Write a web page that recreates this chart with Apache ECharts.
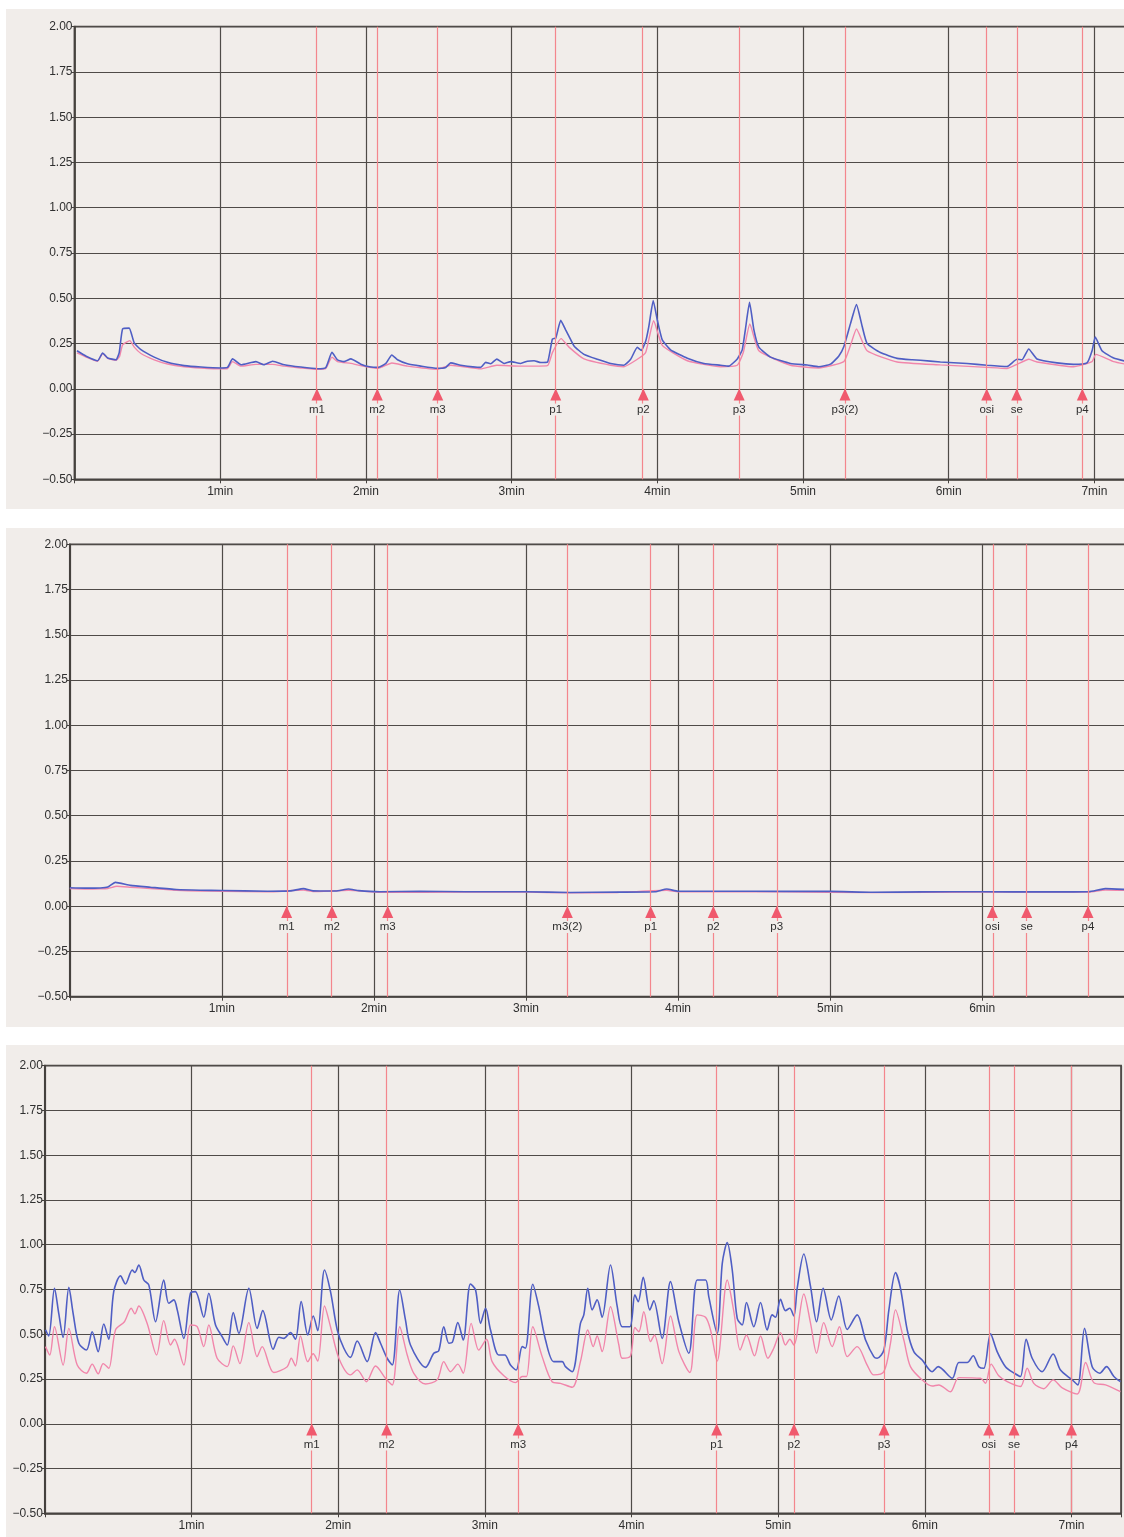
<!DOCTYPE html>
<html>
<head>
<meta charset="utf-8">
<script src="https://cdn.jsdelivr.net/npm/echarts@6/dist/echarts.min.js"></script>
<style>
  html, body { margin: 0; padding: 0; background: #ffffff; }
  #wrap { position: relative; width: 1124px; height: 1537px; overflow: hidden; }
  .paper { position: absolute; left: 6px; right: 0; background: #f1edea; }
  #chart { position: absolute; left: 0; top: 0; width: 1124px; height: 1537px; }
</style>
</head>
<body>
<div id="wrap">
  <div class="paper" style="top:9px;height:500px"></div>
  <div class="paper" style="top:528px;height:499px"></div>
  <div class="paper" style="top:1045px;height:492px"></div>
  <div id="chart"></div>
</div>
<script>
// ---- Recording 1: [minutes, value] ----
const run1Blue = [[0.017,0.21],[0.08,0.18],[0.159,0.155],[0.193,0.198],[0.228,0.17],[0.285,0.16],[0.307,0.2],[0.33,0.33],[0.375,0.335],[0.41,0.253],[0.456,0.216],[0.547,0.175],[0.639,0.146],[0.753,0.128],[0.868,0.12],[1.005,0.115],[1.05,0.118],[1.085,0.165],[1.142,0.133],[1.245,0.15],[1.30,0.133],[1.36,0.152],[1.44,0.133],[1.553,0.12],[1.668,0.111],[1.725,0.118],[1.767,0.201],[1.805,0.16],[1.85,0.15],[1.897,0.165],[1.965,0.136],[2.034,0.12],[2.084,0.118],[2.137,0.14],[2.178,0.187],[2.217,0.16],[2.285,0.138],[2.377,0.125],[2.49,0.113],[2.548,0.118],[2.582,0.143],[2.651,0.13],[2.788,0.118],[2.822,0.146],[2.856,0.138],[2.898,0.164],[2.948,0.14],[2.994,0.15],[3.062,0.14],[3.108,0.152],[3.154,0.155],[3.2,0.145],[3.246,0.147],[3.28,0.275],[3.303,0.28],[3.337,0.378],[3.371,0.325],[3.394,0.29],[3.43,0.235],[3.497,0.19],[3.589,0.163],[3.68,0.14],[3.771,0.13],[3.817,0.163],[3.863,0.229],[3.89,0.212],[3.92,0.262],[3.942,0.345],[3.972,0.487],[4.0,0.38],[4.034,0.27],[4.091,0.215],[4.206,0.169],[4.32,0.14],[4.434,0.13],[4.49,0.125],[4.549,0.165],[4.583,0.215],[4.605,0.33],[4.633,0.477],[4.663,0.325],[4.697,0.23],[4.777,0.175],[4.914,0.14],[5.029,0.131],[5.108,0.122],[5.189,0.136],[5.245,0.18],[5.28,0.232],[5.326,0.36],[5.367,0.465],[5.406,0.345],[5.44,0.25],[5.531,0.2],[5.646,0.168],[5.75,0.16],[5.806,0.158],[5.943,0.148],[6.126,0.14],[6.263,0.13],[6.4,0.123],[6.469,0.163],[6.503,0.16],[6.549,0.22],[6.606,0.165],[6.743,0.143],[6.857,0.135],[6.949,0.143],[6.984,0.21],[7.006,0.286],[7.052,0.21],[7.132,0.17],[7.25,0.145]];
const run1Pink = [[0.017,0.198],[0.08,0.175],[0.159,0.152],[0.193,0.195],[0.228,0.168],[0.285,0.158],[0.31,0.18],[0.33,0.243],[0.38,0.266],[0.41,0.23],[0.456,0.195],[0.547,0.16],[0.639,0.137],[0.753,0.122],[0.868,0.115],[1.005,0.11],[1.05,0.112],[1.085,0.15],[1.142,0.125],[1.245,0.135],[1.36,0.135],[1.44,0.125],[1.553,0.115],[1.668,0.107],[1.725,0.112],[1.767,0.175],[1.805,0.15],[1.897,0.14],[1.965,0.128],[2.084,0.113],[2.178,0.142],[2.285,0.125],[2.49,0.108],[2.582,0.13],[2.788,0.11],[2.898,0.13],[3.062,0.125],[3.246,0.128],[3.28,0.2],[3.34,0.277],[3.394,0.23],[3.497,0.165],[3.68,0.13],[3.771,0.122],[3.863,0.163],[3.92,0.2],[3.975,0.376],[4.034,0.24],[4.206,0.155],[4.434,0.122],[4.549,0.13],[4.59,0.2],[4.635,0.358],[4.697,0.21],[4.914,0.13],[5.108,0.115],[5.28,0.15],[5.326,0.24],[5.367,0.33],[5.44,0.21],[5.646,0.148],[5.943,0.132],[6.263,0.118],[6.4,0.112],[6.469,0.135],[6.55,0.163],[6.606,0.148],[6.857,0.122],[6.984,0.15],[7.01,0.19],[7.132,0.15],[7.25,0.13]];
const events1Names = ['m1','m2','m3','p1','p2','p3','p3(2)','osi','se','p4'];
const events1Times = [1.664,2.078,2.493,3.303,3.904,4.562,5.288,6.261,6.467,6.917];

// ---- Recording 2 ----
const run2Blue = [[0,0.102],[0.1,0.1],[0.2,0.101],[0.25,0.106],[0.299,0.132],[0.4,0.115],[0.529,0.105],[0.7,0.092],[0.858,0.088],[1.0,0.087],[1.3,0.083],[1.45,0.085],[1.537,0.097],[1.6,0.085],[1.75,0.084],[1.833,0.095],[1.9,0.086],[2.04,0.08],[2.3,0.082],[2.6,0.08],[3.0,0.08],[3.29,0.076],[3.6,0.078],[3.85,0.08],[3.926,0.095],[4.0,0.083],[4.3,0.083],[4.7,0.082],[5.0,0.082],[5.28,0.077],[5.6,0.079],[6.0,0.08],[6.4,0.079],[6.7,0.08],[6.81,0.097],[7.0,0.09]];
const run2Pink = [[0,0.097],[0.1,0.095],[0.2,0.096],[0.25,0.098],[0.31,0.11],[0.4,0.105],[0.529,0.098],[0.7,0.088],[0.858,0.084],[1.0,0.083],[1.3,0.079],[1.537,0.09],[1.6,0.081],[1.833,0.088],[2.04,0.077],[2.6,0.078],[3.0,0.078],[3.29,0.074],[3.6,0.076],[3.926,0.088],[4.0,0.08],[4.7,0.08],[5.28,0.075],[6.0,0.078],[6.7,0.078],[6.81,0.09],[7.0,0.086]];
const events2Names = ['m1','m2','m3','m3(2)','p1','p2','p3','osi','se','p4'];
const events2Times = [1.426,1.724,2.091,3.272,3.820,4.232,4.649,6.067,6.293,6.696];

// ---- Recording 3 ----
const run3Blue = [[0.005,0.524],[0.027,0.49],[0.066,0.757],[0.095,0.617],[0.125,0.483],[0.164,0.762],[0.193,0.617],[0.232,0.45],[0.284,0.412],[0.323,0.514],[0.364,0.403],[0.402,0.557],[0.436,0.472],[0.47,0.738],[0.516,0.826],[0.55,0.781],[0.596,0.859],[0.614,0.845],[0.641,0.887],[0.675,0.803],[0.709,0.776],[0.755,0.57],[0.811,0.803],[0.845,0.673],[0.88,0.692],[0.903,0.636],[0.948,0.477],[0.993,0.729],[1.027,0.738],[1.084,0.595],[1.118,0.729],[1.164,0.552],[1.209,0.487],[1.244,0.44],[1.285,0.621],[1.323,0.505],[1.391,0.757],[1.448,0.533],[1.486,0.632],[1.557,0.416],[1.596,0.483],[1.63,0.477],[1.675,0.509],[1.709,0.472],[1.748,0.682],[1.793,0.496],[1.83,0.602],[1.861,0.52],[1.907,0.859],[1.948,0.738],[1.994,0.524],[2.039,0.422],[2.084,0.371],[2.13,0.462],[2.198,0.347],[2.255,0.509],[2.289,0.45],[2.334,0.366],[2.369,0.328],[2.42,0.747],[2.459,0.58],[2.493,0.44],[2.596,0.315],[2.652,0.394],[2.686,0.408],[2.72,0.542],[2.755,0.45],[2.778,0.454],[2.816,0.565],[2.853,0.468],[2.902,0.781],[2.937,0.747],[2.971,0.561],[3.005,0.645],[3.039,0.524],[3.095,0.384],[3.136,0.384],[3.175,0.328],[3.214,0.3],[3.255,0.431],[3.277,0.422],[3.327,0.779],[3.368,0.654],[3.414,0.468],[3.47,0.347],[3.528,0.347],[3.55,0.319],[3.596,0.291],[3.652,0.561],[3.675,0.608],[3.702,0.757],[3.732,0.636],[3.766,0.692],[3.8,0.595],[3.857,0.887],[3.903,0.654],[3.937,0.542],[3.989,0.542],[4.023,0.72],[4.046,0.682],[4.08,0.818],[4.125,0.636],[4.152,0.687],[4.209,0.477],[4.266,0.794],[4.323,0.57],[4.391,0.394],[4.448,0.803],[4.505,0.803],[4.527,0.71],[4.584,0.505],[4.619,0.896],[4.653,1.012],[4.687,0.859],[4.721,0.589],[4.755,0.552],[4.784,0.677],[4.834,0.542],[4.88,0.677],[4.925,0.524],[4.959,0.608],[4.982,0.595],[5.016,0.695],[5.05,0.632],[5.079,0.645],[5.107,0.602],[5.13,0.757],[5.175,0.948],[5.221,0.766],[5.262,0.57],[5.307,0.757],[5.362,0.58],[5.413,0.714],[5.471,0.527],[5.539,0.608],[5.596,0.468],[5.652,0.375],[5.675,0.366],[5.721,0.412],[5.755,0.636],[5.8,0.844],[5.834,0.757],[5.88,0.524],[5.925,0.403],[5.982,0.356],[6.05,0.291],[6.091,0.319],[6.187,0.254],[6.232,0.342],[6.289,0.342],[6.33,0.38],[6.368,0.319],[6.402,0.31],[6.448,0.502],[6.493,0.403],[6.55,0.319],[6.611,0.282],[6.652,0.264],[6.691,0.472],[6.732,0.366],[6.8,0.291],[6.875,0.39],[6.925,0.3],[7.005,0.245],[7.043,0.217],[7.089,0.533],[7.141,0.319],[7.193,0.282],[7.239,0.319],[7.289,0.264],[7.334,0.235]];
const run3Pink = [[0.005,0.431],[0.034,0.384],[0.066,0.542],[0.125,0.328],[0.164,0.533],[0.221,0.328],[0.284,0.282],[0.323,0.333],[0.364,0.279],[0.398,0.336],[0.436,0.31],[0.482,0.524],[0.543,0.57],[0.589,0.645],[0.614,0.614],[0.641,0.658],[0.698,0.56],[0.762,0.384],[0.811,0.576],[0.857,0.44],[0.884,0.472],[0.948,0.328],[0.993,0.552],[1.039,0.542],[1.084,0.431],[1.118,0.552],[1.175,0.366],[1.244,0.319],[1.285,0.435],[1.33,0.336],[1.391,0.565],[1.448,0.375],[1.482,0.431],[1.561,0.286],[1.653,0.319],[1.68,0.366],[1.709,0.323],[1.743,0.49],[1.793,0.347],[1.83,0.391],[1.861,0.35],[1.907,0.658],[1.948,0.542],[2.005,0.366],[2.084,0.273],[2.13,0.301],[2.193,0.235],[2.255,0.323],[2.323,0.254],[2.369,0.217],[2.42,0.542],[2.471,0.384],[2.516,0.282],[2.596,0.222],[2.675,0.245],[2.72,0.347],[2.766,0.291],[2.816,0.333],[2.853,0.282],[2.907,0.561],[2.959,0.412],[3.012,0.472],[3.05,0.347],[3.13,0.268],[3.209,0.23],[3.255,0.264],[3.284,0.264],[3.327,0.542],[3.391,0.375],[3.459,0.235],[3.516,0.226],[3.596,0.204],[3.652,0.347],[3.702,0.524],[3.739,0.431],[3.766,0.49],[3.8,0.403],[3.857,0.654],[3.914,0.44],[3.937,0.366],[3.993,0.379],[4.023,0.538],[4.05,0.514],[4.084,0.626],[4.13,0.459],[4.157,0.496],[4.209,0.336],[4.266,0.602],[4.323,0.403],[4.398,0.286],[4.448,0.608],[4.505,0.595],[4.539,0.524],[4.584,0.35],[4.653,0.803],[4.698,0.626],[4.741,0.412],[4.784,0.496],[4.839,0.379],[4.88,0.49],[4.93,0.366],[4.97,0.422],[5.016,0.509],[5.05,0.44],[5.079,0.472],[5.107,0.44],[5.175,0.725],[5.221,0.561],[5.262,0.394],[5.311,0.565],[5.368,0.431],[5.418,0.542],[5.471,0.375],[5.539,0.431],[5.607,0.328],[5.652,0.273],[5.721,0.291],[5.766,0.45],[5.8,0.636],[5.857,0.468],[5.902,0.319],[5.982,0.245],[6.05,0.211],[6.095,0.217],[6.175,0.179],[6.232,0.258],[6.38,0.254],[6.414,0.226],[6.452,0.333],[6.504,0.268],[6.562,0.235],[6.652,0.208],[6.698,0.31],[6.743,0.226],[6.811,0.196],[6.875,0.245],[6.937,0.2],[7.039,0.166],[7.096,0.342],[7.152,0.23],[7.232,0.217],[7.334,0.179]];
const events3Names = ['m1','m2','m3','p1','p2','p3','osi','se','p4'];
const events3Times = [1.820,2.331,3.228,4.581,5.108,5.722,6.436,6.608,7.0];

// Shared value-axis ticks
const yMin = -0.5, yMax = 2.0, yStep = 0.25;

const FONT = '"Liberation Sans", Arial, Helvetica, sans-serif';
const PAPER = '#f1edea';
const GRIDLINE = '#4f4b48';
const FRAME = '#45413e';
const TEXT = '#2f2f2f';
const BLUE = '#4f5ec4';
const PINK = '#f186ab';
const MARK_LINE = '#f4868c';
const MARK_ARROW = '#f0596d';

const panels = [
  { left: 74.5, top: 26.7, height: 452.6, pxPerMin: 145.7, max: 7.25, blue: run1Blue, pink: run1Pink, names: events1Names, times: events1Times, smooth: 0.15 },
  { left: 69.8, top: 544.3, height: 452.4, pxPerMin: 152.06, max: 6.97, blue: run2Blue, pink: run2Pink, names: events2Names, times: events2Times, smooth: 0.15 },
  { left: 44.8, top: 1065.7, height: 447.6, pxPerMin: 146.67, max: 7.338, blue: run3Blue, pink: run3Pink, names: events3Names, times: events3Times, smooth: 0.3 }
];

const grid = [], xAxis = [], yAxis = [], series = [];

panels.forEach((p, i) => {
  grid.push({
    left: p.left, top: p.top, width: p.pxPerMin * p.max, height: p.height,
    show: true, borderColor: FRAME, borderWidth: 1.7, backgroundColor: 'transparent',
    containLabel: false, outerBoundsMode: 'none'
  });
  xAxis.push({
    type: 'value', gridIndex: i, min: 0, max: p.max, interval: 1,
    axisLine: { show: true, onZero: false, lineStyle: { color: FRAME, width: 1.7 } },
    axisTick: { show: true, length: 4, lineStyle: { color: FRAME, width: 1 } },
    splitLine: { show: true, lineStyle: { color: GRIDLINE, width: 1.2 } },
    axisLabel: {
      show: true, margin: 6, fontSize: 12, color: TEXT, fontFamily: FONT,
      formatter: v => (Number.isInteger(v) && v > 0) ? v + 'min' : ''
    }
  });
  yAxis.push({
    type: 'value', gridIndex: i, min: yMin, max: yMax, interval: yStep,
    axisLine: { show: true, lineStyle: { color: FRAME, width: 1.7 } },
    axisTick: { show: true, length: 3, lineStyle: { color: FRAME, width: 1 } },
    splitLine: { show: true, lineStyle: { color: GRIDLINE, width: 1.2 } },
    axisLabel: {
      show: true, margin: 2, fontSize: 12, color: TEXT, fontFamily: FONT,
      formatter: v => (v < 0 ? '\u2212' : '') + Math.abs(v).toFixed(2)
    }
  });

  // event lines (behind the traces)
  series.push({
    type: 'line', xAxisIndex: i, yAxisIndex: i, data: [], silent: true, z: 1,
    markLine: {
      silent: true, animation: false, symbol: ['none', 'none'],
      label: { show: false },
      lineStyle: { color: MARK_LINE, width: 1.2, type: 'solid' },
      data: p.times.map(t => ({ xAxis: t }))
    }
  });
  series.push({
    type: 'line', xAxisIndex: i, yAxisIndex: i, data: p.pink, showSymbol: false,
    smooth: p.smooth, silent: true, z: 3, animation: false,
    lineStyle: { color: PINK, width: 1.4 }
  });
  series.push({
    type: 'line', xAxisIndex: i, yAxisIndex: i, data: p.blue, showSymbol: false,
    smooth: p.smooth, silent: true, z: 4, animation: false,
    lineStyle: { color: BLUE, width: 1.6 }
  });
  // event arrows with their names
  series.push({
    type: 'scatter', xAxisIndex: i, yAxisIndex: i, silent: true, z: 5, animation: false,
    data: p.times.map((t, k) => ({ value: [t, -0.032], name: p.names[k] })),
    symbol: 'triangle', symbolSize: [11, 12],
    itemStyle: { color: MARK_ARROW, opacity: 1 },
    label: {
      show: true, position: 'bottom', distance: 3, formatter: '{b}',
      fontSize: 11.5, color: TEXT, fontFamily: FONT,
      backgroundColor: PAPER, padding: [0, 1]
    }
  });
});

const chart = echarts.init(document.getElementById('chart'), null, { renderer: 'canvas' });
chart.setOption({
  backgroundColor: 'transparent',
  animation: false,
  grid, xAxis, yAxis, series
});
</script>
</body>
</html>
